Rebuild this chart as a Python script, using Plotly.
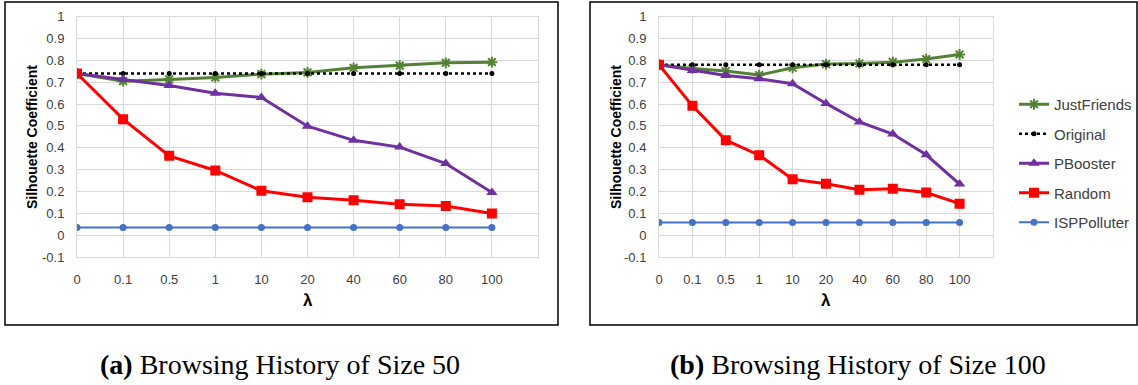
import plotly.graph_objects as go

W, H = 1138, 385

categories = ["0", "0.1", "0.5", "1", "10", "20", "40", "60", "80", "100"]
y_ticks = [-0.1, 0, 0.1, 0.2, 0.3, 0.4, 0.5, 0.6, 0.7, 0.8, 0.9, 1]
y_tick_labels = ["-0.1", "0", "0.1", "0.2", "0.3", "0.4", "0.5", "0.6", "0.7", "0.8", "0.9", "1"]

# (a) Browsing History of Size 50
a_justfriends = [0.74, 0.705, 0.713, 0.722, 0.737, 0.745, 0.766, 0.776, 0.789, 0.792]
a_original = [0.74, 0.74, 0.74, 0.74, 0.74, 0.74, 0.74, 0.74, 0.74, 0.74]
a_pbooster = [0.74, 0.714, 0.685, 0.650, 0.630, 0.499, 0.434, 0.403, 0.328, 0.195]
a_random = [0.74, 0.531, 0.363, 0.296, 0.203, 0.174, 0.160, 0.142, 0.133, 0.099]
a_isppolluter = [0.035] * 10

# (b) Browsing History of Size 100
b_justfriends = [0.78, 0.763, 0.751, 0.733, 0.766, 0.783, 0.786, 0.792, 0.806, 0.827]
b_original = [0.78] * 10
b_pbooster = [0.78, 0.754, 0.731, 0.716, 0.693, 0.603, 0.518, 0.463, 0.368, 0.234]
b_random = [0.78, 0.592, 0.435, 0.366, 0.256, 0.235, 0.208, 0.212, 0.195, 0.144]
b_isppolluter = [0.058] * 10

series_names = ["JustFriends", "Original", "PBooster", "Random", "ISPPolluter"]
captions = ["Browsing History of Size 50", "Browsing History of Size 100"]
caption_tags = ["(a)", "(b)"]

styles = {
    "JustFriends": dict(line=dict(color="#548235", width=3),
                        marker=dict(symbol="asterisk-open", size=9, color="#548235",
                                    line=dict(color="#548235", width=2))),
    "Original": dict(line=dict(color="#000000", width=2.5, dash="dot"),
                     marker=dict(symbol="circle", size=5, color="#000000")),
    "PBooster": dict(line=dict(color="#7030A0", width=3),
                     marker=dict(symbol="triangle-up", size=10, color="#7030A0")),
    "Random": dict(line=dict(color="#FF0000", width=3),
                   marker=dict(symbol="square", size=10, color="#FF0000")),
    "ISPPolluter": dict(line=dict(color="#4472C4", width=2),
                        marker=dict(symbol="circle", size=7, color="#4472C4")),
}

panels = [
    [a_justfriends, a_original, a_pbooster, a_random, a_isppolluter],
    [b_justfriends, b_original, b_pbooster, b_random, b_isppolluter],
]

x_idx = list(range(len(categories)))

fig = go.Figure()
for p, data in enumerate(panels):
    xa = "x" if p == 0 else "x2"
    ya = "y" if p == 0 else "y2"
    for name, vals in zip(series_names, data):
        fig.add_trace(go.Scatter(
            x=x_idx, y=vals, name=name, mode="lines+markers",
            xaxis=xa, yaxis=ya, showlegend=(p == 1),
            legendgroup=name, **styles[name]))

def px_x(v):
    return v / W

def px_y(v):
    return 1 - v / H

grid = "#D9D9D9"
tick_font = dict(family="Liberation Sans, Arial, sans-serif", size=13, color="#404040")

plot_areas = [(77, 538), (659, 993)]
top_px, bot_px = 16.7, 257

axis_common_x = dict(
    range=[0, 10], tickmode="array", tickvals=x_idx, ticktext=categories,
    showgrid=True, gridcolor=grid, gridwidth=1, zeroline=False,
    showline=True, linecolor=grid, linewidth=1, mirror=True,
    ticks="", tickfont=tick_font, ticklabelstandoff=10, fixedrange=True,
    automargin=False)
axis_common_y = dict(
    range=[-0.1, 1], tickmode="array", tickvals=y_ticks, ticktext=y_tick_labels,
    showgrid=True, gridcolor=grid, gridwidth=1, zeroline=False,
    showline=True, linecolor=grid, linewidth=1, mirror=True,
    ticks="", tickfont=tick_font, ticklabelstandoff=9, fixedrange=True,
    automargin=False)

fig.update_layout(
    xaxis=dict(domain=[px_x(plot_areas[0][0]), px_x(plot_areas[0][1])], anchor="y", **axis_common_x),
    yaxis=dict(domain=[px_y(bot_px), px_y(top_px)], anchor="x", **axis_common_y),
    xaxis2=dict(domain=[px_x(plot_areas[1][0]), px_x(plot_areas[1][1])], anchor="y2", **axis_common_x),
    yaxis2=dict(domain=[px_y(bot_px), px_y(top_px)], anchor="x2", **axis_common_y),
)

# Panel frames
frames = [(5, 558), (590, 1137)]
for x0, x1 in frames:
    fig.add_shape(type="rect", xref="paper", yref="paper",
                  x0=px_x(x0), x1=px_x(x1), y0=px_y(325), y1=px_y(2),
                  line=dict(color="#000000", width=1.5), fillcolor="rgba(0,0,0,0)")

title_font = dict(family="Liberation Sans, Arial, sans-serif", size=14, color="#000000")
ytitle_x = [32, 616]
caption_cx = [280, 858]
for p in range(2):
    cx = (plot_areas[p][0] + plot_areas[p][1]) / 2
    fig.add_annotation(xref="paper", yref="paper", x=px_x(cx), y=px_y(300),
                       text="<b>λ</b>", showarrow=False,
                       font=dict(family="Liberation Sans, Arial, sans-serif", size=17, color="#000000"),
                       xanchor="center", yanchor="middle")
    fig.add_annotation(xref="paper", yref="paper", x=px_x(ytitle_x[p]), y=px_y(137),
                       text="<b>Silhouette Coefficient</b>", showarrow=False, textangle=-90,
                       font=title_font, xanchor="center", yanchor="middle")
    fig.add_annotation(xref="paper", yref="paper", x=px_x(caption_cx[p]), y=px_y(364),
                       text=f"<b>{caption_tags[p]}</b> {captions[p]}", showarrow=False,
                       font=dict(family="Liberation Serif, Times New Roman, serif", size=28, color="#000000"),
                       xanchor="center", yanchor="middle")

fig.update_layout(
    width=W, height=H,
    margin=dict(l=0, r=0, t=0, b=0, autoexpand=False),
    paper_bgcolor="white", plot_bgcolor="white",
    legend=dict(x=px_x(1014), y=px_y(88), xanchor="left", yanchor="top",
                font=dict(family="Liberation Sans, Arial, sans-serif", size=15, color="#404040"),
                bgcolor="rgba(0,0,0,0)", traceorder="grouped", tracegroupgap=7,
                itemwidth=30),
)

fig.write_html("out.html", config={"displayModeBar": False},
               post_script="document.body.style.margin='0';document.body.style.overflow='hidden';")
